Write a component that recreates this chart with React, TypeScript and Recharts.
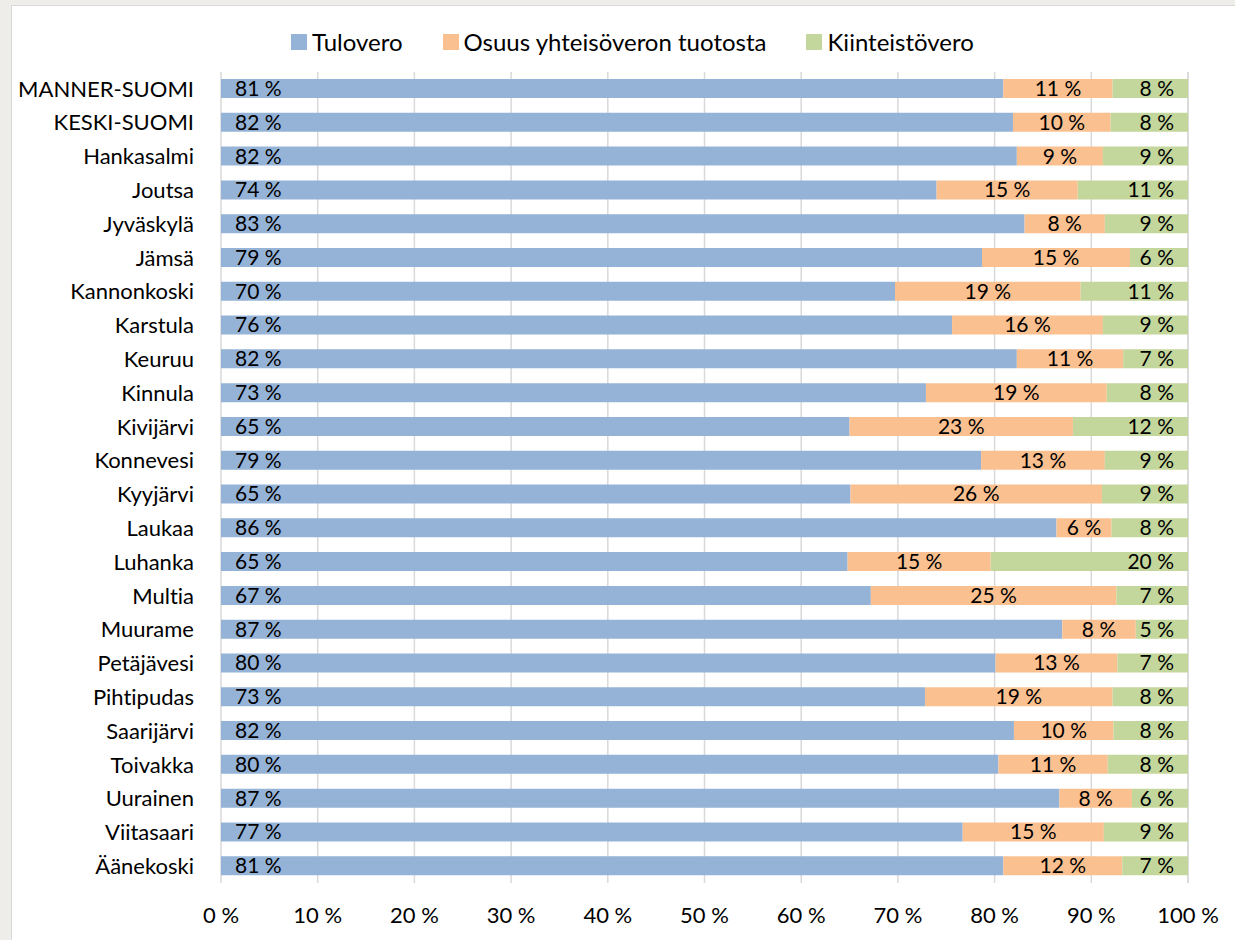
import React from 'react';
import { BarChart, Bar, XAxis, YAxis, CartesianGrid, LabelList } from 'recharts';

const categories = [
  'MANNER-SUOMI', 'KESKI-SUOMI', 'Hankasalmi', 'Joutsa', 'Jyväskylä', 'Jämsä', 'Kannonkoski',
  'Karstula', 'Keuruu', 'Kinnula', 'Kivijärvi', 'Konnevesi', 'Kyyjärvi', 'Laukaa', 'Luhanka',
  'Multia', 'Muurame', 'Petäjävesi', 'Pihtipudas', 'Saarijärvi', 'Toivakka', 'Uurainen',
  'Viitasaari', 'Äänekoski',
];
const tulovero = [80.9, 81.9, 82.3, 74.0, 83.1, 78.7, 69.7, 75.6, 82.3, 72.9, 65.0, 78.6, 65.1, 86.4, 64.8, 67.2, 87.0, 80.1, 72.8, 82.0, 80.4, 86.7, 76.7, 80.9];
const yhteisovero = [11.3, 10.1, 8.9, 14.6, 8.3, 15.3, 19.2, 15.6, 11.0, 18.7, 23.1, 12.8, 26.0, 5.7, 14.8, 25.4, 7.6, 12.6, 19.4, 10.3, 11.3, 7.5, 14.6, 12.3];
const kiinteistovero = [7.8, 8.0, 8.8, 11.4, 8.6, 6.0, 11.1, 8.8, 6.7, 8.4, 11.9, 8.6, 8.9, 7.9, 20.4, 7.4, 5.4, 7.3, 7.8, 7.7, 8.3, 5.8, 8.7, 6.8];
const xTicks = [0, 10, 20, 30, 40, 50, 60, 70, 80, 90, 100];
const seriesNames = ['Tulovero', 'Osuus yhteisöveron tuotosta', 'Kiinteistövero'];
const colors = ['#95B3D7', '#FAC090', '#C3D69B'];

const data = categories.map((name, i) => ({
  name,
  a: tulovero[i],
  b: yhteisovero[i],
  c: kiinteistovero[i],
}));

const FONT = 'Lato, "Open Sans", sans-serif';
const pct = (v: any) => `${Math.round(Number(v))} %`;

export default function App() {
  return (
    <div style={{ position: 'absolute', left: 0, top: 0, width: 1235, height: 940, background: '#EFEDE9', overflow: 'hidden', fontFamily: FONT, fontVariantLigatures: 'none' }}>
      <div style={{ position: 'absolute', left: 11, top: 5, width: 1224, height: 935, background: '#FFFFFF', borderTop: '1px solid #D9D9D9', borderLeft: '1px solid #D9D9D9' }} />
      <div style={{ position: 'absolute', left: 291, top: 29, height: 26, display: 'flex', alignItems: 'center', whiteSpace: 'nowrap' }}>
        {seriesNames.map((n, i) => (
          <div key={n} style={{ display: 'flex', alignItems: 'center', marginRight: i < 2 ? 40 : 0 }}>
            <div style={{ width: 16, height: 16, background: colors[i], marginRight: 5 }} />
            <span style={{ fontSize: 24, color: '#000', lineHeight: '26px' }}>{n}</span>
          </div>
        ))}
      </div>
      <div style={{ position: 'absolute', left: 0, top: 0 }}>
        <BarChart
          width={1235}
          height={940}
          data={data}
          layout="vertical"
          margin={{ top: 72, right: 47, bottom: 0, left: 0 }}
          barSize={19}
        >
          <CartesianGrid horizontal={false} vertical={true} stroke="#D9D9D9" strokeWidth={1.5} />
          <XAxis
            type="number"
            domain={[0, 100]}
            ticks={xTicks}
            tickFormatter={pct}
            axisLine={false}
            tickLine={false}
            tickSize={0}
            tickMargin={24}
            height={57}
            interval={0}
            tick={{ fontSize: 22, fill: '#000', fontFamily: FONT }}
          />
          <YAxis
            type="category"
            dataKey="name"
            width={221}
            axisLine={false}
            tickLine={false}
            tickSize={0}
            tickMargin={27}
            interval={0}
            tick={{ fontSize: 22, fill: '#000', fontFamily: FONT }}
          />
          <Bar dataKey="a" stackId="s" fill={colors[0]} isAnimationActive={false}>
            <LabelList dataKey="a" position="insideLeft" offset={14} formatter={pct} style={{ fontSize: 21, fill: '#000', fontFamily: FONT }} />
          </Bar>
          <Bar dataKey="b" stackId="s" fill={colors[1]} isAnimationActive={false}>
            <LabelList dataKey="b" position="center" formatter={pct} style={{ fontSize: 21, fill: '#000', fontFamily: FONT }} />
          </Bar>
          <Bar dataKey="c" stackId="s" fill={colors[2]} isAnimationActive={false}>
            <LabelList dataKey="c" position="insideRight" offset={14} formatter={pct} style={{ fontSize: 21, fill: '#000', fontFamily: FONT }} />
          </Bar>
        </BarChart>
      </div>
    </div>
  );
}
